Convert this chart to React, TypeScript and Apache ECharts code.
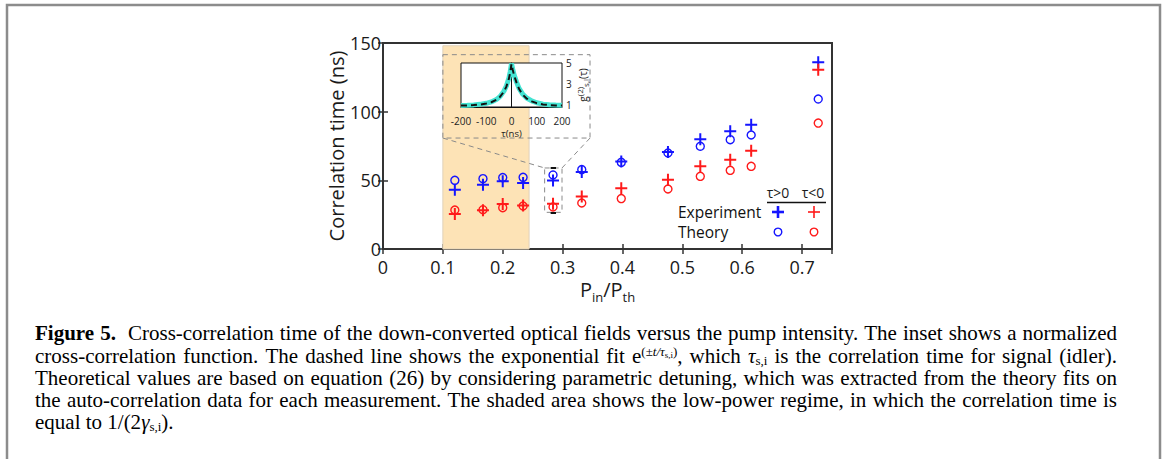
import React, { useEffect, useRef } from "react";
import * as echarts from "echarts";

// ---- main chart data ----
const pumpRatio = [0.12, 0.167, 0.2, 0.234, 0.284, 0.332, 0.398, 0.476, 0.53, 0.58, 0.615, 0.727];
const expPos = [43.2, 46.8, 49.3, 48, 49.8, 56, 63.8, 70.6, 80, 85.7, 90.5, 136];
const theoPos = [50, 51.2, 52, 52.2, 53.9, 57.8, 63.1, 69.9, 74.8, 79.6, 83, 109.2];
const expNeg = [25.5, 28.2, 32.8, 31.6, 33, 38.3, 44.2, 50.5, 60.2, 65, 71.6, 130.6];
const theoNeg = [28.4, 28.6, 30.1, 31.3, 30.6, 33.5, 36.7, 43.7, 52.9, 57.3, 60.2, 91.7];
const yTicks = [0, 50, 100, 150];
const xTickLabels = ["0", "0.1", "0.2", "0.3", "0.4", "0.5", "0.6", "0.7"];

// shaded low-power regime [x0, x1, yTop]
const shadeRange = [0.1, 0.244, 148];
// inset frame (data coords) and zoom box (data coords)
const insetFrame = [0.1, 141.5, 0.3458, 80.8];
const zoomBox = [0.27, 59, 0.299, 26.7];

// ---- inset data ----
const tau = [-200, -175, -150, -125, -100, -80, -60, -45, -30, -20, -10, -5, 0, 5, 10, 20, 30, 45, 60, 80, 100, 125, 150, 175, 200];
const gMeasured = [1.0, 1.02, 1.05, 1.1, 1.2, 1.33, 1.55, 1.85, 2.35, 2.85, 3.6, 4.2, 4.95, 4.4, 3.9, 3.2, 2.6, 2.05, 1.7, 1.42, 1.25, 1.12, 1.06, 1.03, 1.01];
const gFit = [0.98, 1.0, 1.03, 1.08, 1.18, 1.3, 1.52, 1.82, 2.3, 2.8, 3.55, 4.15, 4.9, 4.35, 3.85, 3.15, 2.55, 2.0, 1.65, 1.38, 1.21, 1.09, 1.03, 1.0, 0.99];
const insetXTicks = [-200, -100, 0, 100, 200];
const insetYTicks = [1, 3, 5];

// ---- caption (style, text) segments per line ----
const captionLines: [string, string][][] = [
  [["b", "Figure 5."], ["n", "  Cross-correlation time of the down-converted optical fields versus the pump intensity. The inset shows a normalized"]],
  [["n", "cross-correlation function. The dashed line shows the exponential fit e"], ["sup", "(±"], ["supi", "t/τ"], ["supsub", "s,i"], ["sup", ")"], ["n", ", which "], ["i", "τ"], ["sub", "s,i"], ["n", " is the correlation time for signal (idler)."]],
  [["n", "Theoretical values are based on equation "], ["blue", "(26)"], ["n", " by considering parametric detuning, which was extracted from the theory fits on"]],
  [["n", "the auto-correlation data for each measurement. The shaded area shows the low-power regime, in which the correlation time is"]],
  [["n", "equal to 1/(2"], ["i", "γ"], ["sub", "s,i"], ["n", ")."]],
];

const BLUE = "#1515ff";
const RED = "#ff1a1a";
const SANS = "'Open Sans', sans-serif";
const SERIF = "'Liberation Serif', serif";
const PLUS = "path://M5,0H7V5H12V7H7V12H5V7H0V5H5Z";

const zip = (xs: number[], ys: number[]) => xs.map((x, i) => [x, ys[i]]);

export default function App() {
  const ref = useRef<HTMLDivElement>(null);
  useEffect(() => {
    if (!ref.current) return;
    const chart = echarts.init(ref.current, null, { renderer: "svg" });
    const capFont = 21;
    const capLeft = 35;
    const capRight = 1117;
    const capY = [333, 355.5, 378, 400, 422];
    const styleFont: Record<string, string> = {
      n: `${capFont}px ${SERIF}`,
      b: `bold ${capFont}px ${SERIF}`,
      i: `italic ${capFont}px ${SERIF}`,
      blue: `${capFont}px ${SERIF}`,
      sup: `13px ${SERIF}`,
      supi: `italic 13px ${SERIF}`,
      supsub: `9px ${SERIF}`,
      sub: `13px ${SERIF}`,
    };
    const capRich: any = {
      n: { fontFamily: SERIF, fontSize: capFont, color: "#111", lineHeight: 22 },
      b: { fontFamily: SERIF, fontSize: capFont, fontWeight: "bold", color: "#111", lineHeight: 22 },
      i: { fontFamily: SERIF, fontSize: capFont, fontStyle: "italic", color: "#111", lineHeight: 22 },
      blue: { fontFamily: SERIF, fontSize: capFont, color: "#2a7fd0", lineHeight: 22 },
      sup: { fontFamily: SERIF, fontSize: 13, color: "#111", lineHeight: 13, verticalAlign: "top" },
      supi: { fontFamily: SERIF, fontSize: 13, fontStyle: "italic", color: "#111", lineHeight: 13, verticalAlign: "top" },
      supsub: { fontFamily: SERIF, fontSize: 9, color: "#111", lineHeight: 9, verticalAlign: "top", padding: [6, 0, 0, 0] },
      sub: { fontFamily: SERIF, fontSize: 13, color: "#111", lineHeight: 13, verticalAlign: "bottom" },
    };
    const ctx = document.createElement("canvas").getContext("2d")!;
    const measure = (t: string, font: string) => {
      ctx.font = font;
      return ctx.measureText(t).width;
    };
    const spaceable = (s: string) => s === "n" || s === "b" || s === "i" || s === "blue";
    const capTexts = captionLines.map((segs, li) => {
      const justify = li < captionLines.length - 1;
      let natural = 0;
      let spaces = 0;
      segs.forEach(([s, t]) => {
        natural += measure(t, styleFont[s]);
        if (spaceable(s)) spaces += t.split(" ").length - 1;
      });
      const extra = justify && spaces > 0 ? (capRight - capLeft - natural) / spaces : 0;
      const spName = `sp${li}`;
      capRich[spName] = { fontFamily: SERIF, fontSize: capFont, lineHeight: 22, width: Math.max(2, measure(" ", styleFont.n) + extra) };
      const out: string[] = [];
      segs.forEach(([s, t]) => {
        if (spaceable(s)) {
          const parts = t.split(" ");
          parts.forEach((p, k) => {
            if (k > 0) out.push(`{${spName}| }`);
            if (p) out.push(`{${s}|${p}}`);
          });
        } else out.push(`{${s}|${t}}`);
      });
      return out.join("");
    });

    const axisLabelStyle = { fontFamily: SANS, fontSize: 18, color: "#1a1a1a", lineHeight: 18 };
    const insetLabel = { fontFamily: SANS, fontSize: 10, color: "#222" };

    const option: any = {
      animation: false,
      backgroundColor: "#ffffff",
      grid: [
        { left: 383, top: 43, width: 449, height: 206, show: true, backgroundColor: "#fff", borderColor: "#333", borderWidth: 2, z: 0 },
        { left: 461, top: 63, width: 101, height: 44, show: true, backgroundColor: "#fff", borderColor: "#111", borderWidth: 1, z: 3 },
      ],
      xAxis: [
        {
          type: "value", gridIndex: 0, min: 0, max: 0.75, interval: 0.1,
          axisLine: { show: true, lineStyle: { color: "#333", width: 2 } },
          axisTick: { show: true, inside: true, length: 5, lineStyle: { color: "#333", width: 1.5 } },
          splitLine: { show: false },
          axisLabel: {
            ...axisLabelStyle, margin: 9, showMaxLabel: false,
            formatter: (v: number) => {
              const k = Math.round(v * 10);
              return Math.abs(v * 10 - k) < 1e-6 && k < xTickLabels.length ? xTickLabels[k] : "";
            },
          },
          name: "{p|P}{s|in}{p|/P}{s|th}", nameLocation: "middle", nameGap: 30,
          nameTextStyle: {
            rich: {
              p: { fontFamily: SANS, fontSize: 20, color: "#1a1a1a", lineHeight: 20, verticalAlign: "top" },
              s: { fontFamily: SANS, fontSize: 13, color: "#1a1a1a", lineHeight: 13, verticalAlign: "top", padding: [11, 0, 0, 0] },
            },
          },
        },
        {
          type: "value", gridIndex: 0, position: "top", min: 0, max: 0.75, interval: 0.1,
          axisLine: { show: true, lineStyle: { color: "#333", width: 2 } },
          axisTick: { show: true, inside: true, length: 5, lineStyle: { color: "#333", width: 1.5 } },
          axisLabel: { show: false }, splitLine: { show: false },
        },
        {
          type: "value", gridIndex: 1, min: -200, max: 200, interval: 100, z: 4,
          axisLine: { show: true, lineStyle: { color: "#111", width: 1 } },
          axisTick: { show: false }, splitLine: { show: false },
          axisLabel: { ...insetLabel, margin: 9, customValues: insetXTicks },
          name: "τ(ns)", nameLocation: "middle", nameGap: 21,
          nameTextStyle: { ...insetLabel, fontSize: 9.5 },
        },
      ],
      yAxis: [
        {
          type: "value", gridIndex: 0, min: 0, max: 150, interval: 50,
          axisLine: { show: true, lineStyle: { color: "#333", width: 2 } },
          axisTick: { show: true, inside: true, length: 5, lineStyle: { color: "#333", width: 1.5 } },
          splitLine: { show: false },
          axisLabel: { ...axisLabelStyle, margin: 2, customValues: yTicks },
          name: "Correlation time (ns)", nameLocation: "middle", nameGap: 36,
          nameTextStyle: { fontFamily: SANS, fontSize: 20, color: "#1a1a1a" },
        },
        {
          type: "value", gridIndex: 0, position: "right", min: 0, max: 150, interval: 50,
          axisLine: { show: true, lineStyle: { color: "#333", width: 2 } },
          axisTick: { show: true, inside: true, length: 5, lineStyle: { color: "#333", width: 1.5 } },
          axisLabel: { show: false }, splitLine: { show: false },
        },
        {
          type: "value", gridIndex: 1, position: "right", min: 0.85, max: 5.0, z: 4,
          axisLine: { show: true, lineStyle: { color: "#111", width: 1 } },
          axisTick: { show: false }, splitLine: { show: false },
          axisLabel: { ...insetLabel, margin: 4, customValues: insetYTicks },
          name: "{n|g}{sup|(2)}{sub|s,i}{n|(τ)}", nameLocation: "middle", nameGap: 13,
          nameTextStyle: {
            rich: {
              n: { fontFamily: SANS, fontSize: 10, color: "#222", lineHeight: 14 },
              sup: { fontFamily: SANS, fontSize: 8, color: "#222", lineHeight: 8, verticalAlign: "top" },
              sub: { fontFamily: SANS, fontSize: 8, color: "#222", lineHeight: 8, verticalAlign: "bottom" },
            },
          },
        },
      ],
      series: [
        {
          type: "scatter", xAxisIndex: 0, yAxisIndex: 0, data: [], z: 1, silent: true,
          markArea: {
            silent: true,
            itemStyle: { color: "#fde3b6", borderColor: "#e0d2bb", borderWidth: 1 },
            data: [[{ coord: [shadeRange[0], 0] }, { coord: [shadeRange[1], shadeRange[2]] }]],
          },
        },
        {
          type: "scatter", xAxisIndex: 0, yAxisIndex: 0, data: [], z: 2, silent: true,
          markArea: {
            silent: true,
            itemStyle: { color: "rgba(0,0,0,0)", borderColor: "#8a8a8a", borderWidth: 1, borderType: [5, 4] },
            data: [
              [{ coord: [insetFrame[0], insetFrame[1]] }, { coord: [insetFrame[2], insetFrame[3]] }],
              [{ coord: [zoomBox[0], zoomBox[1]] }, { coord: [zoomBox[2], zoomBox[3]] }],
            ],
          },
          markLine: {
            silent: true, symbol: ["none", "none"],
            label: { show: false },
            lineStyle: { color: "#8a8a8a", width: 1, type: [5, 4] },
            data: [
              [{ coord: [insetFrame[0], insetFrame[3]] }, { coord: [zoomBox[0], zoomBox[1]] }],
              [{ coord: [insetFrame[2], insetFrame[3]] }, { coord: [zoomBox[2], zoomBox[1]] }],
              [{ coord: [0.28, zoomBox[1]], lineStyle: { color: "#111", type: "solid", width: 2 } }, { coord: [0.289, zoomBox[1]] }],
              [{ coord: [0.28, zoomBox[3]], lineStyle: { color: "#111", type: "solid", width: 2 } }, { coord: [0.289, zoomBox[3]] }],
            ],
          },
        },
        {
          name: "Theory τ>0", type: "scatter", xAxisIndex: 0, yAxisIndex: 0, z: 4,
          symbol: "circle", symbolSize: 8,
          itemStyle: { color: "rgba(0,0,0,0)", borderColor: BLUE, borderWidth: 1.4, opacity: 1 },
          data: zip(pumpRatio, theoPos),
        },
        {
          name: "Theory τ<0", type: "scatter", xAxisIndex: 0, yAxisIndex: 0, z: 4,
          symbol: "circle", symbolSize: 8,
          itemStyle: { color: "rgba(0,0,0,0)", borderColor: RED, borderWidth: 1.4, opacity: 1 },
          data: zip(pumpRatio, theoNeg),
        },
        {
          name: "Experiment τ>0", type: "scatter", xAxisIndex: 0, yAxisIndex: 0, z: 5,
          symbol: PLUS, symbolSize: 12, symbolKeepAspect: true,
          itemStyle: { color: BLUE, opacity: 1 },
          data: zip(pumpRatio, expPos),
        },
        {
          name: "Experiment τ<0", type: "scatter", xAxisIndex: 0, yAxisIndex: 0, z: 5,
          symbol: PLUS, symbolSize: 12, symbolKeepAspect: true,
          itemStyle: { color: RED, opacity: 1 },
          data: zip(pumpRatio, expNeg),
        },
        {
          type: "line", xAxisIndex: 2, yAxisIndex: 2, z: 6, showSymbol: false, symbol: "none",
          lineStyle: { color: "#44e3d2", width: 5 },
          data: zip(tau, gMeasured),
        },
        {
          type: "line", xAxisIndex: 2, yAxisIndex: 2, z: 7, showSymbol: false, symbol: "none",
          lineStyle: { color: "#111", width: 2, type: [6, 4] },
          data: zip(tau, gFit),
        },
      ],
      graphic: [
        // outer page frame
        { type: "rect", z: 20, shape: { x: 7, y: 5, width: 1153, height: 480 }, style: { fill: "none", stroke: "#8c8c8c", lineWidth: 2.5 } },
        // legend
        { type: "text", z: 20, style: { text: "τ>0", x: 778, y: 192, align: "center", verticalAlign: "middle", font: `14px ${SANS}`, fill: "#1a1a1a" } },
        { type: "text", z: 20, style: { text: "τ<0", x: 813, y: 192, align: "center", verticalAlign: "middle", font: `14px ${SANS}`, fill: "#1a1a1a" } },
        { type: "line", z: 20, shape: { x1: 767, y1: 202.5, x2: 826, y2: 202.5 }, style: { stroke: "#111", lineWidth: 1.5 } },
        { type: "text", z: 20, style: { text: "Experiment", x: 678, y: 212, align: "left", verticalAlign: "middle", font: `15.5px ${SANS}`, fill: "#111" } },
        { type: "text", z: 20, style: { text: "Theory", x: 678, y: 232, align: "left", verticalAlign: "middle", font: `15.5px ${SANS}`, fill: "#111" } },
        { type: "line", z: 20, shape: { x1: 772, y1: 212, x2: 784, y2: 212 }, style: { stroke: BLUE, lineWidth: 2.6 } },
        { type: "line", z: 20, shape: { x1: 778, y1: 206, x2: 778, y2: 218 }, style: { stroke: BLUE, lineWidth: 2.6 } },
        { type: "line", z: 20, shape: { x1: 808, y1: 212, x2: 820, y2: 212 }, style: { stroke: RED, lineWidth: 1.6 } },
        { type: "line", z: 20, shape: { x1: 814, y1: 206, x2: 814, y2: 218 }, style: { stroke: RED, lineWidth: 1.6 } },
        { type: "circle", z: 20, shape: { cx: 778, cy: 232, r: 3.8 }, style: { fill: "none", stroke: BLUE, lineWidth: 1.4 } },
        { type: "circle", z: 20, shape: { cx: 814, cy: 232, r: 3.8 }, style: { fill: "none", stroke: RED, lineWidth: 1.4 } },
        // caption
        ...capTexts.map((t, i) => ({
          type: "text", z: 20,
          style: { text: t, x: capLeft, y: capY[i], align: "left", verticalAlign: "middle", rich: capRich, font: `${capFont}px ${SERIF}` },
        })),
      ],
    };
    chart.setOption(option);
    return () => chart.dispose();
  }, []);
  return <div ref={ref} style={{ position: "absolute", left: 0, top: 0, width: 1165, height: 459 }} />;
}
